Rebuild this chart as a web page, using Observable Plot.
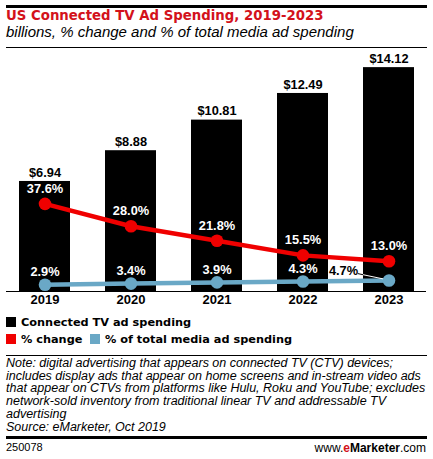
<!DOCTYPE html>
<html>
<head>
<meta charset="utf-8">
<script src="https://cdn.jsdelivr.net/npm/d3@7"></script>
<script src="https://cdn.jsdelivr.net/npm/@observablehq/plot@0.6"></script>
<style>
  html, body { margin: 0; padding: 0; background: #fff; }
  #wrap { position: relative; width: 433px; height: 459px; overflow: hidden; }
  .abs { position: absolute; white-space: nowrap; }
  .rule { position: absolute; left: 6px; width: 421px; background: #000; }
  #title { left: 6px; top: 9px; font: bold 13.3px/13.3px "DejaVu Sans"; color: #d3121b; }
  #subtitle { left: 6px; top: 24.4px; font: italic 15px/15px "Liberation Sans"; color: #000; }
  #chart { position: absolute; left: 0; top: 50px; }
  .leg { font: bold 11.3px/11.3px "DejaVu Sans"; color: #000; }
  .sw { position: absolute; width: 10px; height: 10px; }
  #note { left: 6px; top: 356.7px; font: italic 12.5px/12.85px "Liberation Sans"; color: #000; }
  #code { left: 6px; top: 442px; font: 11px/11px "Liberation Sans"; color: #000; }
  #brand { right: 7px; top: 442px; font: 12px/12px "Liberation Sans"; color: #000; }
</style>
</head>
<body>
<div id="wrap">
  <div class="rule" style="top:5px;height:3px"></div>
  <div id="title" class="abs">US Connected TV Ad Spending, 2019-2023</div>
  <div id="subtitle" class="abs">billions, % change and % of total media ad spending</div>
  <div class="rule" style="top:47px;height:1px"></div>
  <div id="chart"></div>
  <div class="sw" style="left:6px;top:316.5px;background:#000"></div>
  <div class="abs leg" style="left:21px;top:316.5px">Connected TV ad spending</div>
  <div class="sw" style="left:6px;top:334px;background:#f00000"></div>
  <div class="abs leg" style="left:21px;top:334px">% change</div>
  <div class="sw" style="left:90px;top:334px;background:#6aa8c6"></div>
  <div class="abs leg" style="left:105px;top:334px">% of total media ad spending</div>
  <div class="rule" style="top:355px;height:1px"></div>
  <div id="note" class="abs">Note: digital advertising that appears on connected TV (CTV) devices;<br>includes display ads that appear on home screens and in-stream video ads<br>that appear on CTVs from platforms like Hulu, Roku and YouTube; excludes<br>network-sold inventory from traditional linear TV and addressable TV<br>advertising<br>Source: eMarketer, Oct 2019</div>
  <div class="rule" style="top:436px;height:3px"></div>
  <div id="code" class="abs">250078</div>
  <div id="brand" class="abs">www.<b style="color:#d3121b">e</b><b>Marketer</b>.com</div>
</div>
<script>
// ---- data ----
const years = ["2019", "2020", "2021", "2022", "2023"];
const spending = [6.94, 8.88, 10.81, 12.49, 14.12];      // billions
const pctChange = [37.6, 28.0, 21.8, 15.5, 13.0];         // % change
const pctTotal = [2.9, 3.4, 3.9, 4.3, 4.7];               // % of total media ad spending

const data = years.map((year, i) => ({
  year,
  spending: spending[i],
  pctChange: pctChange[i],
  pctTotal: pctTotal[i]
}));

// Percent series share the billions axis: full plot height = yMax billions = pctMax %
const yMax = 15.2;
const pctMax = 103.4;
const k = yMax / pctMax;

const RED = "#f00000";
const BLUE = "#6aa8c6";
const FONT = "Liberation Sans";

const last = data[data.length - 1];
const rest = data.slice(0, -1);

const plot = Plot.plot({
  width: 433,
  height: 262,
  marginTop: 0,
  marginBottom: 21,
  marginLeft: 6,
  marginRight: 7,
  style: { fontFamily: FONT, fontSize: "13px", fontWeight: "bold", color: "#000", background: "transparent", overflow: "visible" },
  x: { domain: years, paddingInner: 0.409, paddingOuter: 0.139, tickSize: 0, tickPadding: 3.5, label: null },
  y: { domain: [0, yMax], axis: null },
  marks: [
    Plot.barY(data, { x: "year", y: "spending", fill: "#000" }),
    Plot.ruleY([0], { stroke: "#000", strokeWidth: 1 }),
    Plot.text(data, {
      x: "year", y: "spending", text: d => "$" + d.spending.toFixed(2),
      dy: -9, fill: "#000", fontSize: 12.8, fontWeight: "bold", fontFamily: FONT
    }),
    // % change
    Plot.line(data, { x: "year", y: d => d.pctChange * k, stroke: RED, strokeWidth: 4.5 }),
    Plot.dot(data, { x: "year", y: d => d.pctChange * k, r: 6.3, fill: RED, stroke: "none" }),
    Plot.text(data, {
      x: "year", y: d => d.pctChange * k, text: d => d.pctChange.toFixed(1) + "%",
      dy: -15, fill: "#fff", fontSize: 12.8, fontWeight: "bold", fontFamily: FONT
    }),
    // % of total media
    Plot.line(data, { x: "year", y: d => d.pctTotal * k, stroke: BLUE, strokeWidth: 4.5 }),
    Plot.dot(data, { x: "year", y: d => d.pctTotal * k, r: 6.3, fill: BLUE, stroke: "none" }),
    Plot.text(rest, {
      x: "year", y: d => d.pctTotal * k, text: d => d.pctTotal.toFixed(1) + "%",
      dy: -13, fill: "#fff", fontSize: 12.8, fontWeight: "bold", fontFamily: FONT
    }),
    Plot.text([last], {
      x: "year", y: d => d.pctTotal * k, text: d => d.pctTotal.toFixed(1) + "%",
      dx: -45.5, dy: -10, fill: "#000", fontSize: 12.8, fontWeight: "bold", fontFamily: FONT
    })
  ]
});

document.getElementById("chart").appendChild(plot);

// leader line for the last % of total label, positioned from the plot's scales
try {
  const xs = plot.scale("x");
  const ys = plot.scale("y");
  const bx = xs.apply(last.year);
  const cx = bx + xs.bandwidth / 2;
  const cy = ys.apply(last.pctTotal * k);
  const x0 = cx - 31, y0 = cy - 6.5;
  const svg = d3.select(plot);
  const g = svg.append("g");
  g.append("line").attr("x1", x0).attr("y1", y0).attr("x2", cx).attr("y2", cy)
    .attr("stroke", "#fff").attr("stroke-width", 1);
  const t = (bx - x0) / (cx - x0);
  g.append("line").attr("x1", x0).attr("y1", y0).attr("x2", bx).attr("y2", y0 + t * (cy - y0))
    .attr("stroke", "#000").attr("stroke-width", 1);
  // keep the dot above the leader
  svg.node().appendChild(svg.selectAll("g[aria-label='dot']").nodes().slice(-1)[0]);
} catch (e) { console.error(e); }
</script>
</body>
</html>
